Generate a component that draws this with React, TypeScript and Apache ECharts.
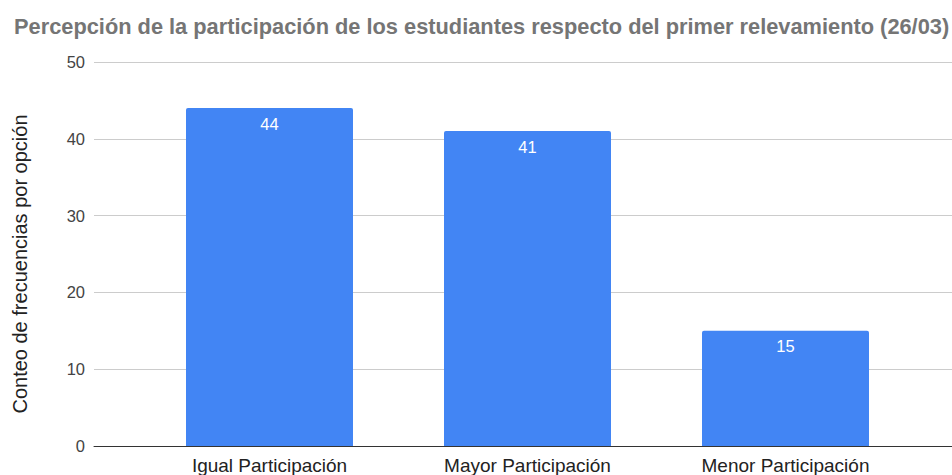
import React, { useEffect, useRef } from "react";
import * as echarts from "echarts";

const categories = ["Igual Participación", "Mayor Participación", "Menor Participación"];
const values = [44, 41, 15];
const yMin = 0;
const yMax = 50;
const yInterval = 10;
const titleText = "Percepción de la participación de los estudiantes respecto del primer relevamiento (26/03)";
const yAxisName = "Conteo de frecuencias por opción";

export default function App() {
  const ref = useRef<HTMLDivElement>(null);
  useEffect(() => {
    if (!ref.current) return;
    const chart = echarts.init(ref.current, undefined, { renderer: "svg" });
    const font = "Arial, 'Liberation Sans', sans-serif";
    chart.setOption({
      animation: false,
      textStyle: { fontFamily: font },
      title: {
        text: titleText,
        left: 9,
        top: 10,
        textStyle: { fontSize: 21.8, fontWeight: "bold", color: "#757575", fontFamily: font },
      },
      graphic: [
        {
          type: "text",
          x: 20,
          y: 264,
          rotation: Math.PI / 2,
          style: {
            text: yAxisName,
            fontSize: 20,
            fill: "#222",
            fontFamily: font,
            align: "center",
            verticalAlign: "middle",
          },
        },
      ],
      grid: [
        { left: 94, right: 0, top: 62, bottom: 29 },
        { left: 140.5, right: 37.5, top: 62, bottom: 29 },
      ],
      xAxis: [
        {
          gridIndex: 0,
          type: "category",
          data: [""],
          axisLine: { show: true, lineStyle: { color: "#333", width: 1 } },
          axisTick: { show: false },
          axisLabel: { show: false },
        },
        {
          gridIndex: 1,
          type: "category",
          data: categories,
          axisLine: { show: false },
          axisTick: { show: false },
          axisLabel: { fontSize: 19, color: "#222", margin: 10, fontFamily: font },
        },
      ],
      yAxis: [
        {
          gridIndex: 0,
          type: "value",
          min: yMin,
          max: yMax,
          interval: yInterval,
          axisLine: { show: false },
          axisTick: { show: false },
          axisLabel: { fontSize: 16.5, color: "#444", margin: 9, fontFamily: font },
          splitLine: { show: true, lineStyle: { color: "#cccccc", width: 1 } },
        },
        {
          gridIndex: 1,
          type: "value",
          min: yMin,
          max: yMax,
          interval: yInterval,
          show: false,
          splitLine: { show: false },
        },
      ],
      series: [
        {
          type: "bar",
          xAxisIndex: 1,
          yAxisIndex: 1,
          data: values,
          barWidth: 167,
          itemStyle: { color: "#4285F4", borderRadius: [2, 2, 0, 0] },
          label: {
            show: true,
            position: "insideTop",
            distance: 7,
            color: "#ffffff",
            fontSize: 16.5,
            fontFamily: font,
          },
        },
      ],
    });
    return () => chart.dispose();
  }, []);
  return <div ref={ref} style={{ width: 952, height: 475, position: "absolute", left: 0, top: 0 }} />;
}
